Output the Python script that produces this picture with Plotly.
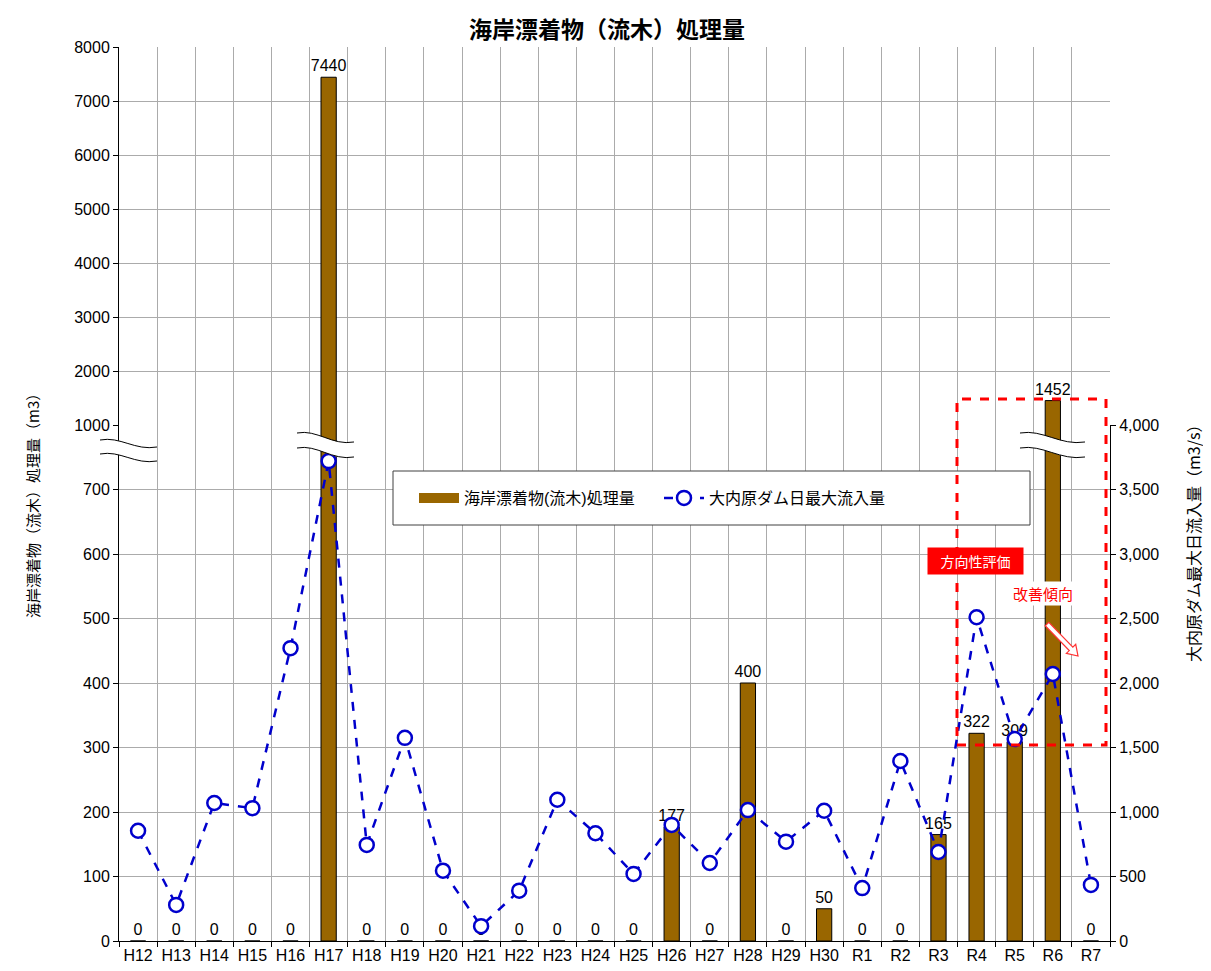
import plotly.graph_objects as go
import numpy as np

# ---------------- data ----------------
categories = ["H12", "H13", "H14", "H15", "H16", "H17", "H18", "H19", "H20", "H21",
              "H22", "H23", "H24", "H25", "H26", "H27", "H28", "H29", "H30",
              "R1", "R2", "R3", "R4", "R5", "R6", "R7"]
driftwood = [0, 0, 0, 0, 0, 7440, 0, 0, 0, 0,
             0, 0, 0, 0, 177, 0, 400, 0, 50,
             0, 0, 165, 322, 309, 1452, 0]
inflow = [855, 280, 1070, 1030, 2270, 3720, 745, 1575, 545, 115,
          390, 1095, 835, 520, 900, 605, 1015, 770, 1010,
          410, 1395, 690, 2510, 1565, 2070, 435]
lower_ticks = [0, 100, 200, 300, 400, 500, 600, 700]
upper_ticks = [1000, 2000, 3000, 4000, 5000, 6000, 7000, 8000]
right_ticks = [0, 500, 1000, 1500, 2000, 2500, 3000, 3500, 4000]
BREAK = 1000

# ---------------- layout geometry (reference pixel coords) ----------------
OFF = 8                       # page body margin of the browser
W, H = 1211 - OFF, 971 - OFF  # figure size
L, R, T, B = 119, 1110, 47, 941
SPLIT = 425  # pixel y where the axis is broken


def px(x):
    return (x - L) / (R - L)


def py(y):
    return (B - y) / (B - T)


FONT = "Liberation Sans, Noto Sans CJK JP, sans-serif"
CJK = "Noto Sans CJK JP"
GRID = "#ababab"
BROWN = "#996600"
BLUE = "#0000cc"
BAR_NAME = "海岸漂着物(流木)処理量"
LINE_NAME = "大内原ダム日最大流入量"

low_text = [str(v) if v < BREAK else "" for v in driftwood]
up_text = [str(v) if v >= BREAK else "" for v in driftwood]

fig = go.Figure()
fig.add_trace(go.Bar(
    x=categories, y=driftwood, text=low_text, textposition="outside",
    constraintext="none", textfont=dict(size=16, color="black"), cliponaxis=False,
    marker=dict(color=BROWN, line=dict(color="black", width=1)),
    name=BAR_NAME, xaxis="x", yaxis="y", showlegend=False,
))
fig.add_trace(go.Bar(
    x=categories, y=driftwood, text=up_text, textposition="outside",
    constraintext="none", textfont=dict(size=16, color="black"), cliponaxis=False,
    marker=dict(color=BROWN, line=dict(color="black", width=1)),
    name=BAR_NAME, xaxis="x2", yaxis="y2", showlegend=False,
))
# legend-only entry giving the wide bar swatch
fig.add_trace(go.Scatter(
    x=[None], y=[None], mode="lines", line=dict(color=BROWN, width=10),
    name=BAR_NAME, xaxis="x", yaxis="y", showlegend=True,
))
fig.add_trace(go.Scatter(
    x=categories, y=inflow, mode="lines+markers",
    line=dict(color=BLUE, width=2.5, dash="dash"),
    marker=dict(symbol="circle", size=14, color="white", line=dict(color=BLUE, width=2.5)),
    name=LINE_NAME, xaxis="x", yaxis="y3", cliponaxis=False,
))

split_frac = py(SPLIT)

axis_common = dict(tickfont=dict(size=16, color="black"), linecolor="black",
                   ticks="outside", ticklen=5, tickcolor="black", automargin=False)

fig.update_layout(
    width=W, height=H,
    margin=dict(l=L - OFF, r=W - (R - OFF), t=T - OFF, b=H - (B - OFF), autoexpand=False),
    paper_bgcolor="white", plot_bgcolor="white",
    font=dict(family=FONT, color="black"),
    bargap=0.6,
    xaxis=dict(domain=[0, 1], anchor="y", type="category", range=[-0.5, 25.5],
               tickson="boundaries", showgrid=True, gridcolor=GRID, gridwidth=1,
               tickangle=0, showline=True, **axis_common),
    xaxis2=dict(domain=[0, 1], anchor="y2", matches="x", type="category",
                tickson="boundaries", showgrid=True, gridcolor=GRID, gridwidth=1,
                showticklabels=False, ticks="", showline=False, automargin=False),
    yaxis=dict(domain=[0, split_frac], range=[0, 800], tickvals=lower_ticks,
               showgrid=True, gridcolor=GRID, gridwidth=1, zeroline=False,
               showline=True, **axis_common),
    yaxis2=dict(domain=[split_frac, 1], range=[1000, 8000], tickvals=upper_ticks,
                showgrid=True, gridcolor=GRID, gridwidth=1, zeroline=False,
                showline=True, **axis_common),
    yaxis3=dict(overlaying="y", side="right", anchor="x", range=[0, 4000],
                tickvals=right_ticks, tickformat=",", showgrid=False, zeroline=False,
                showline=True, **axis_common),
    legend=dict(orientation="h", x=px(414), y=py(498), xanchor="left", yanchor="middle",
                bgcolor="rgba(0,0,0,0)", borderwidth=0, font=dict(size=16, color="black"),
                entrywidth=190, itemwidth=40, traceorder="normal"),
    showlegend=True,
)

shapes = []

# legend frame
shapes.append(dict(type="rect", xref="paper", yref="paper",
                   x0=px(393), x1=px(1030), y0=py(525), y1=py(471),
                   line=dict(color="#404040", width=1), fillcolor="white", layer="above"))


def wave_path(x0, x1, y0, y1):
    w = x1 - x0
    pts = [(x0, y0), (x0 + 0.35 * w, y0 - 4), (x0 + 0.62 * w, y1 + 4), (x1, y1)]
    return pts


def fmt(p):
    return f"{px(p[0]):.5f},{py(p[1]):.5f}"


breaks = [  # x0, x1, top y left, top y right, vertical offset
    (100, 157, 440, 447, 14),
    (297, 354, 433, 442, 15),
    (1020, 1085, 433, 442, 15),
]
for x0, x1, ya, yb, off in breaks:
    top = wave_path(x0, x1, ya, yb)
    bot = wave_path(x0, x1, ya + off, yb + off)
    fill = (f"M {fmt(top[0])} C {fmt(top[1])} {fmt(top[2])} {fmt(top[3])} "
            f"L {fmt(bot[3])} C {fmt(bot[2])} {fmt(bot[1])} {fmt(bot[0])} Z")
    shapes.append(dict(type="path", xref="paper", yref="paper", path=fill,
                       fillcolor="white", line=dict(width=0), layer="above"))
    for c in (top, bot):
        shapes.append(dict(type="path", xref="paper", yref="paper",
                           path=f"M {fmt(c[0])} C {fmt(c[1])} {fmt(c[2])} {fmt(c[3])}",
                           line=dict(color="black", width=1), layer="above"))

# red dashed evaluation box
shapes.append(dict(type="rect", xref="paper", yref="paper",
                   x0=px(957), x1=px(1106), y0=py(745), y1=py(399),
                   line=dict(color="#ff0000", width=3, dash="dash"), layer="above"))

# hollow arrow (improvement tendency)
S = np.array([1047.0, 624.0])
Tp = np.array([1078.0, 656.0])
d = (Tp - S) / np.linalg.norm(Tp - S)
n = np.array([-d[1], d[0]])
Bp = Tp - 10 * d
poly = [S + n * 2.5, Bp + n * 2.5, Bp + n * 6.5, Tp, Bp - n * 6.5, Bp - n * 2.5, S - n * 2.5]
path = "M " + " L ".join(fmt(p) for p in poly) + " Z"
shapes.append(dict(type="path", xref="paper", yref="paper", path=path,
                   fillcolor="white", line=dict(color="#ff3333", width=1.2), layer="above"))

fig.update_layout(shapes=shapes)

annotations = [
    dict(text="<b>海岸漂着物（流木）処理量</b>", xref="paper", yref="paper",
         x=px(607), y=py(28), xanchor="center", yanchor="middle", showarrow=False,
         font=dict(size=23, family=CJK, color="black")),
    dict(text="海岸漂着物（流木）処理量（m3）", xref="paper", yref="paper",
         x=px(32), y=py(502), textangle=-90, xanchor="center", yanchor="middle",
         showarrow=False, font=dict(size=15, family=CJK, color="black")),
    dict(text="大内原ダム最大日流入量（m3/s）", xref="paper", yref="paper",
         x=px(1193), y=py(540), textangle=-90, xanchor="center", yanchor="middle",
         showarrow=False, font=dict(size=16, family=CJK, color="black")),
    dict(text="方向性評価", xref="paper", yref="paper", x=px(975.5), y=py(561),
         xanchor="center", yanchor="middle", showarrow=False, bgcolor="#ff0000",
         width=93, height=24, font=dict(size=14, family=CJK, color="white")),
    dict(text="改善傾向", xref="paper", yref="paper", x=px(1043), y=py(593),
         xanchor="center", yanchor="middle", showarrow=False, bgcolor="white",
         font=dict(size=15, family=CJK, color="#ff0000")),
]
fig.update_layout(annotations=annotations)

fig.write_html("out.html")
